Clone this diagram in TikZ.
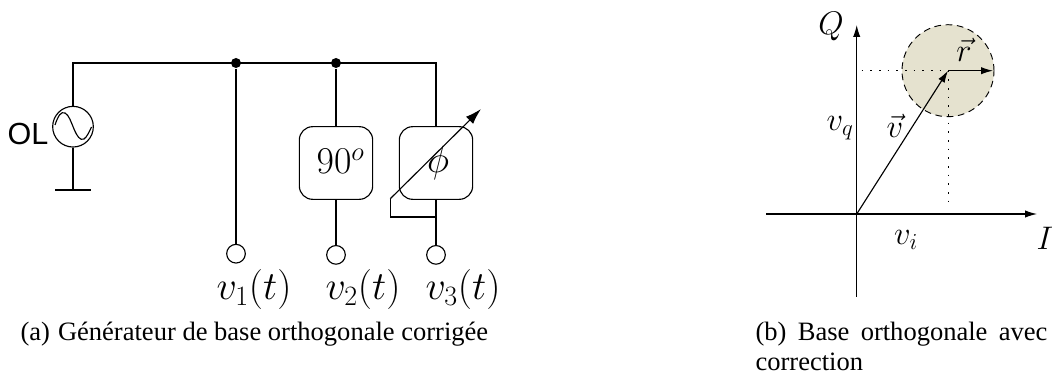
\documentclass[tikz,border=0pt]{standalone}
\usepackage{fix-cm}
\usepackage{fontspec}
\setmainfont{Liberation Serif}
\newfontfamily\olfont{Liberation Sans}
\usetikzlibrary{arrows.meta,positioning}
\definecolor{disctan}{HTML}{E5E2CF}

\begin{document}
\begin{tikzpicture}[
  x=0.75pt,y=-0.75pt,
  line width=0.85pt,
  node distance=33.8pt,
  dot/.style={circle,fill=black,inner sep=0pt,minimum size=7.5pt},
  src/.style={circle,draw,inner sep=0pt,minimum size=30.5pt},
  term/.style={circle,draw,inner sep=0pt,minimum size=14pt},
  block/.style={draw,rounded corners=10pt,minimum width=55pt,minimum height=54.5pt,inner sep=0pt,font=\fontsize{28.4}{32}\selectfont},
  sig/.style={inner sep=0pt,font=\fontsize{30}{34}\selectfont},
  sym/.style={inner sep=0pt,font=\fontsize{24.5}{28}\selectfont},
  captxt/.style={inner sep=0pt,anchor=base west,font=\fontsize{19.9}{24}\selectfont},
  arr/.style={-{Latex[length=9pt,width=5.5pt]}},
  bigarr/.style={-{Latex[length=12pt,width=7.5pt]}},
  dots/.style={line width=0.7pt,dash pattern=on 1.2pt off 5.3pt}
]
\useasboundingbox (0,0) rectangle (1052,374);

\node[src] (ol) at (73,126.7) {};
\node[inner sep=0pt,anchor=east,font=\olfont\fontsize{22.9}{26}\selectfont] (oltxt) at (49,134) {OL};
\coordinate (gnd) at (73,190);
\coordinate (gndl) at (55,190);
\coordinate (gndr) at (91,190);
\coordinate (topl) at (73,63);
\coordinate (topr) at (436,63);
\node[dot] (j1) at (236,63) {};
\node[dot] (j2) at (336,63) {};
\node[block] (b90) at (336,163) {\hspace{7pt}\raisebox{2.5pt}{$90^o$}};
\node[block] (bphi) at (436,163) {\hspace{3pt}$\phi$};
\node[term,below=of b90] (t2) {};
\node[term,below=of bphi] (t3) {};
\node[term] (t1) at (236,253.7) {};
\coordinate (ctl) at (390.3,198.7);
\coordinate (tip) at (481,109);
\coordinate (foot) at (436,217);

\draw (ol) -- (topl) -- (topr) -- (bphi);
\draw (ol) -- (gnd);
\draw (gndl) -- (gndr);
\draw (j1) -- (t1);
\draw (j2) -- (b90);
\draw (b90) -- (t2);
\draw (bphi) -- (t3);
\draw (foot) -| (ctl);
\draw[bigarr] (ctl) -- (tip);
\draw (55,125) .. controls (58,116) and (61,111) .. (65,113) .. controls (69,115) and (71,122) .. (74,129) .. controls (77,136) and (80,141) .. (84,139) .. controls (87,137) and (89,132) .. (91.5,127);

\node[sig] (v1) at (254,289) {$v_1(t)$};
\node[sig] (v2) at (363,289) {$v_2(t)$};
\node[sig] (v3) at (463,289) {$v_3(t)$};

\node[captxt] (capa) at (20,340) {(a)\hspace{6pt}Générateur de base orthogonale corrigée};
\node[captxt] (capb) at (755,340) {(b)\hspace{8.5pt}Base\hspace{8.5pt}orthogonale\hspace{8.5pt}avec};
\node[captxt] (capc) at (755,370) {correction};

\node[circle,draw,fill=disctan,dash pattern=on 5pt off 3.5pt,line width=0.7pt,inner sep=0pt,minimum size=69pt] (disc) at (948,70.7) {};
\coordinate (ctr) at (948,70.7);
\coordinate (o) at (856.7,214);
\coordinate (xl) at (766,214);
\coordinate (xr) at (1037,214);
\coordinate (yb) at (856.7,296.7);
\coordinate (yt) at (856.7,25);
\coordinate (qd) at (861.7,70.7);
\coordinate (id) at (948,206.7);
\coordinate (rt) at (993,70.7);
\draw[dots] (qd) -- (ctr);
\draw[dots] (ctr) -- (id);
\draw[arr] (xl) -- (xr);
\draw[arr] (yb) -- (yt);
\draw[arr] (o) -- (ctr);
\draw[arr] (ctr) -- (rt);

\node[sym] (qlab) at (831,27) {$Q$};
\node[sym] (ilab) at (1045,238) {$I$};
\node[sym] (vq) at (840,128) {$v_q$};
\node[sym] (vi) at (906,240) {$v_i$};
\node[sym] (vvec) at (895,126) {$\vec{v}$};
\node[sym] (rvec) at (964,50) {$\vec{r}$};
\end{tikzpicture}
\end{document}
